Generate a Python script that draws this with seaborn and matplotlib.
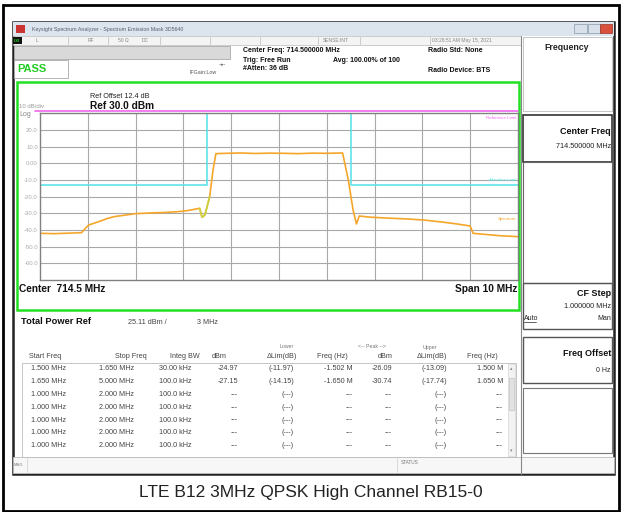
import numpy as np
import pandas as pd
import seaborn as sns
import matplotlib.pyplot as plt
from matplotlib.patches import Rectangle

# spectrum trace (MHz, dBm)
trace_freq = [709.50, 709.80, 710.10, 710.37, 710.45, 710.52, 710.70, 710.90, 711.05, 711.30,
              711.50, 711.80, 712.10, 712.40, 712.60, 712.84, 712.89, 712.95, 713.05, 713.12,
              713.18, 713.40, 713.70, 714.00, 714.30, 714.60, 714.90, 715.20, 715.50, 715.83,
              715.95, 716.05, 716.12, 716.18, 716.40, 716.80, 717.20, 717.52, 717.90, 718.20,
              718.50, 718.56, 718.80, 719.10, 719.50]
trace_dbm = [-42.0, -42.2, -41.9, -41.6, -39.0, -37.0, -35.3, -33.2, -32.0, -31.0,
             -30.2, -29.8, -29.5, -29.0, -28.3, -27.0, -32.4, -31.0, -20.0, -4.0,
             5.8, 6.0, 6.2, 5.9, 6.1, 6.0, 5.8, 6.1, 6.0, 6.2,
             -10.0, -28.0, -36.4, -31.6, -32.3, -32.9, -33.4, -34.0, -35.2, -36.3,
             -37.6, -42.0, -42.6, -43.4, -44.0]

# absolute limit (cyan) and reference limit (magenta)
limit_freq = [709.5, 713.0, 713.0, 716.0, 716.0, 719.5]
limit_dbm = [-13.0, -13.0, 30.0, 30.0, -13.0, -13.0]
limit_side = ["low", "low", "low", "high", "high", "high"]
ref_freq = [709.4, 719.5]
ref_dbm = [31.6, 31.6]

y_ticks = [20, 10, 0, -10, -20, -30, -40, -50, -60]
y_labels = ["20.0", "10.0", "0.00", "-10.0", "-20.0", "-30.0", "-40.0", "-50.0", "-60.0"]
x_grid = [710.5, 711.5, 712.5, 713.5, 714.5, 715.5, 716.5, 717.5, 718.5]

# result table
start_freq = ["1.500 MHz", "1.650 MHz", "1.000 MHz", "1.000 MHz", "1.000 MHz", "1.000 MHz", "1.000 MHz"]
stop_freq = ["1.650 MHz", "5.000 MHz", "2.000 MHz", "2.000 MHz", "2.000 MHz", "2.000 MHz", "2.000 MHz"]
integ_bw = ["30.00 kHz", "100.0 kHz", "100.0 kHz", "100.0 kHz", "100.0 kHz", "100.0 kHz", "100.0 kHz"]
low_dbm = ["-24.97", "-27.15", "---", "---", "---", "---", "---"]
low_lim = ["(-11.97)", "(-14.15)", "(---)", "(---)", "(---)", "(---)", "(---)"]
low_freq = ["-1.502 M", "-1.650 M", "---", "---", "---", "---", "---"]
up_dbm = ["-26.09", "-30.74", "---", "---", "---", "---", "---"]
up_lim = ["(-13.09)", "(-17.74)", "(---)", "(---)", "(---)", "(---)", "(---)"]
up_freq = ["1.500 M", "1.650 M", "---", "---", "---", "---", "---"]

sns.set_theme(style="white")
plt.rcParams['font.family'] = ['Liberation Sans', 'DejaVu Sans']

fig = plt.figure(figsize=(6.21, 5.12), dpi=100)
bg = fig.add_axes([0, 0, 1, 1])
bg.set_xlim(0, 621)
bg.set_ylim(512, 0)
bg.axis('off')


def box(x0, y0, x1, y1, ec="#999999", fc="none", lw=0.8):
    bg.add_patch(Rectangle((x0, y0), x1 - x0, y1 - y0, ec=ec, fc=fc, lw=lw))


def txt(x, y, s, size=5.2, ha="left", color="#333333", bold=False):
    bg.text(x, y, s, fontsize=size, ha=ha, va="center", color=color,
            fontweight="bold" if bold else "normal")


# outer frame and analyzer window
box(2.5, 5, 618.5, 510.5, ec="black", lw=2)
box(13, 22, 614, 474, ec="#222222", fc="white", lw=1.8)
box(13, 22, 614, 36, ec="none", fc="#dce4ee")
box(16, 25, 25, 33, ec="none", fc="#cc3333")
txt(32, 29, "Keysight Spectrum Analyzer - Spectrum Emission Mask 3D5640", 3.8, color="#556070")
box(574, 24, 587, 33, ec="#8899aa", fc="#d8e0ea", lw=0.5)
box(588, 24, 600, 33, ec="#8899aa", fc="#d8e0ea", lw=0.5)
box(600, 24, 612, 33, ec="#993322", fc="#d9503c", lw=0.5)

# toolbar row
box(13, 36, 521, 45, ec="#bbbbbb", fc="#f4f4f4", lw=0.5)
box(13, 37, 22, 44, ec="none", fc="#111111")
txt(14, 40.5, "LXI", 2.8, color="#22dd22", bold=True)
for xs, s in [(36, "L"), (88, "RF"), (118, "50 Ω"), (142, "DC"), (323, "SENSE:INT"),
              (432, "03:28:51 AM May 15, 2021")]:
    txt(xs, 40.5, s, 3.6, color="#888888")
for xs in [68, 108, 160, 210, 260, 318, 360, 430]:
    bg.plot([xs, xs], [37, 44], color="#bbbbbb", lw=0.5)

# status header
box(14, 46, 230, 59, ec="#aaaaaa", fc="#d9d9d9", lw=0.6)
box(14, 60, 68, 78, ec="#aaaaaa", fc="white", lw=0.6)
txt(17, 69, "PASS", 8, color="#22cc22", bold=True)
txt(190, 72, "IFGain:Low", 3.8, color="#555555")
txt(219, 65, "-·▸-", 3.5, color="#555555")
txt(243, 51, "Center Freq: 714.500000 MHz", 5, color="#111111", bold=True)
txt(243, 60, "Trig: Free Run", 5, color="#111111", bold=True)
txt(243, 69, "#Atten: 36 dB", 5, color="#111111", bold=True)
txt(333, 60, "Avg: 100.00% of 100", 5, color="#111111", bold=True)
txt(428, 51, "Radio Std: None", 5, color="#111111", bold=True)
txt(428, 70, "Radio Device: BTS", 5, color="#111111", bold=True)

# green trace window frame and its labels
box(17, 82, 519, 310, ec="#22e022", lw=1.8)
txt(90, 97, "Ref Offset 12.4 dB", 5.2, color="#222222")
txt(90, 106, "Ref 30.0 dBm", 7.3, color="#111111", bold=True)
txt(19, 107, "10 dB/div", 4.3, color="#999999")
txt(19, 115, "Log", 5, color="#888888")
txt(19, 289, "Center  714.5 MHz", 7.3, color="#111111", bold=True)
txt(517, 289, "Span 10 MHz", 7.3, ha="right", color="#111111", bold=True)

# right softkey panel
bg.plot([521, 521], [36, 474], color="#888888", lw=0.8)
box(523, 37, 612, 111, ec="#bbbbbb", lw=0.6)
txt(567, 47, "Frequency", 6.3, ha="center", color="#222222", bold=True)
box(523, 115, 612, 162, ec="#333333", lw=1.2)
txt(611, 132, "Center Freq", 6.5, ha="right", color="#111111", bold=True)
txt(611, 146, "714.500000 MHz", 5.2, ha="right", color="#222222")
box(523, 162, 612, 283, ec="#666666", lw=0.8)
box(523, 283, 612, 329, ec="#555555", lw=1.0)
txt(611, 294, "CF Step", 6.5, ha="right", color="#111111", bold=True)
txt(611, 306, "1.000000 MHz", 5.2, ha="right", color="#222222")
txt(524, 318, "Auto", 5, color="#222222")
bg.plot([524, 536], [321.5, 321.5], color="#222222", lw=0.5)
txt(611, 318, "Man", 5, ha="right", color="#222222")
box(523, 337, 612, 383, ec="#555555", lw=1.0)
txt(611, 354, "Freq Offset", 6.5, ha="right", color="#111111", bold=True)
txt(611, 371, "0 Hz", 5, ha="right", color="#222222")
box(523, 388, 612, 453, ec="#777777", lw=0.8)

# result table
txt(21, 322, "Total Power Ref", 6.7, color="#111111", bold=True)
txt(128, 322, "25.11 dBm /", 5.2, color="#444444")
txt(197, 322, "3 MHz", 5.2, color="#444444")
txt(287, 347, "Lower", 3.8, ha="center", color="#777777")
txt(372, 347, "<-- Peak -->", 3.8, ha="center", color="#777777")
txt(430, 347, "Upper", 3.8, ha="center", color="#777777")
heads = [(29, "Start Freq", "left"), (147, "Stop Freq", "right"), (200, "Integ BW", "right"),
         (227, "dBm", "right"), (297, "ΔLim(dB)", "right"), (348, "Freq (Hz)", "right"),
         (393, "dBm", "right"), (447, "ΔLim(dB)", "right"), (498, "Freq (Hz)", "right")]
for xh, s, ha in heads:
    txt(xh, 357, s, 5.2, ha=ha, color="#444444")
box(22, 363, 516, 457, ec="#bbbbbb", lw=0.6)
box(508, 364, 515, 456, ec="#cccccc", fc="#f2f2f2", lw=0.4)
box(509, 378, 514, 410, ec="#bbbbbb", fc="#e2e2e2", lw=0.4)
txt(511.5, 369, "▴", 3.5, ha="center", color="#888888")
txt(511.5, 451, "▾", 3.5, ha="center", color="#888888")
row_y = [369, 381.8, 394.6, 407.4, 420.2, 433.0, 445.8]
for i, yr in enumerate(row_y):
    txt(31, yr, start_freq[i], 5.2, color="#444444")
    txt(99, yr, stop_freq[i], 5.2, color="#444444")
    txt(159, yr, integ_bw[i], 5.2, color="#444444")
    txt(238, yr, low_dbm[i], 5.2, ha="right", color="#444444")
    txt(294, yr, low_lim[i], 5.2, ha="right", color="#444444")
    txt(353, yr, low_freq[i], 5.2, ha="right", color="#444444")
    txt(392, yr, up_dbm[i], 5.2, ha="right", color="#444444")
    txt(447, yr, up_lim[i], 5.2, ha="right", color="#444444")
    txt(503, yr, up_freq[i], 5.2, ha="right", color="#444444")

# message / status bar
box(13, 457, 614, 473, ec="#bbbbbb", fc="#f7f7f7", lw=0.6)
bg.plot([27, 27], [458, 472], color="#cccccc", lw=0.5)
bg.plot([397, 397], [458, 472], color="#cccccc", lw=0.5)
txt(14, 465, "MSG", 3.0, color="#777777")
txt(401, 463, "STATUS", 3.4, color="#777777")

# caption
txt(311, 493, "LTE B12 3MHz QPSK High Channel RB15-0", 12.5, ha="center", color="#222222")

# spectrum graticule
ax = fig.add_axes([40 / 621, (512 - 280) / 512, 478 / 621, 166.7 / 512])
ax.set_facecolor("white")
trace = pd.DataFrame({"freq": trace_freq, "dbm": trace_dbm})
limits = pd.DataFrame({"freq": limit_freq, "dbm": limit_dbm, "side": limit_side})

sns.lineplot(data=limits, x="freq", y="dbm", units="side", estimator=None, sort=False,
             color="#5fe3e8", lw=1.2, ax=ax)
sns.lineplot(data=trace, x="freq", y="dbm", estimator=None, sort=False,
             color="#f5a62a", lw=1.2, ax=ax)
sns.lineplot(data=trace.iloc[15:19], x="freq", y="dbm", estimator=None, sort=False,
             color="#c9d23c", lw=1.2, ax=ax)
sns.lineplot(x=ref_freq, y=ref_dbm, color="#ee66ee", lw=1.2, ax=ax)
ax.lines[-1].set_clip_on(False)

ax.set_xlim(709.5, 719.5)
ax.set_ylim(-70, 30)
ax.set_xticks(x_grid)
ax.set_xticklabels([])
ax.set_yticks(y_ticks)
ax.set_yticklabels(y_labels)
ax.tick_params(length=0, labelsize=4.3, labelcolor="#aaaaaa", pad=1.5)
ax.grid(True, color="#a8a8a8", lw=0.8)
ax.set_xlabel("")
ax.set_ylabel("")
for sp in ax.spines.values():
    sp.set_color("#808080")
    sp.set_linewidth(1.0)

ax.text(0.997, 0.985, "Reference Limit", transform=ax.transAxes, fontsize=3.2,
        color="#ee66ee", ha="right", va="top")
ax.text(0.997, 0.585, "Absolute Limit", transform=ax.transAxes, fontsize=3.2,
        color="#5fe3e8", ha="right", va="bottom")
ax.text(0.997, 0.355, "Spectrum", transform=ax.transAxes, fontsize=3.2,
        color="#f5a62a", ha="right", va="bottom")

fig.savefig("out.png", dpi=100)
